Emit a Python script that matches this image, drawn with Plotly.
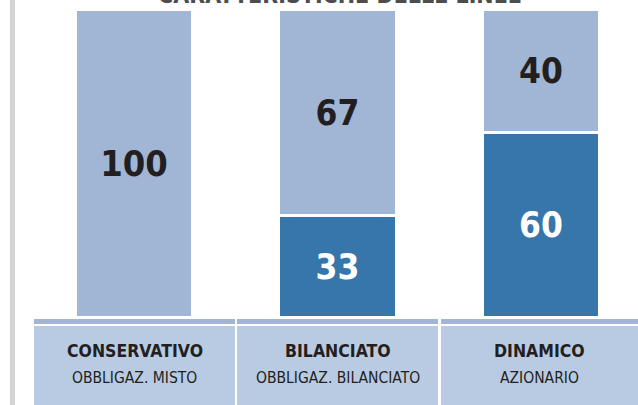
import plotly.graph_objects as go

# ---- data ----
categories = ["CONSERVATIVO", "BILANCIATO", "DINAMICO"]
subtitles = ["OBBLIGAZ. MISTO", "OBBLIGAZ. BILANCIATO", "AZIONARIO"]
azionario = [0, 33, 60]          # dark segment (bottom)
obbligazionario = [100, 67, 40]  # light segment (top)
title_text = "CARATTERISTICHE DELLE LINEE"

# ---- style ----
W, H = 638, 405
LIGHT = "#a1b6d4"
DARK = "#3776aa"
CELL = "#b8cbe3"
TXT = "#231f20"
FONT_B = "Noto Sans Condensed, DejaVu Sans Condensed, sans-serif"

def lab(vals):
    return [str(v) if v else "" for v in vals]

fig = go.Figure()
fig.add_trace(go.Bar(
    x=categories, y=azionario, name="Azionario",
    marker=dict(color=DARK, line=dict(color="white", width=3)),
    width=0.575,
    text=lab(azionario), textposition="inside", insidetextanchor="middle",
    textangle=0, constraintext="none",
    textfont=dict(family=FONT_B, size=35, color="white", weight="bold"),
    hoverinfo="skip",
))
fig.add_trace(go.Bar(
    x=categories, y=obbligazionario, name="Obbligazionario",
    marker=dict(color=LIGHT, line=dict(color="white", width=3)),
    width=0.575,
    text=lab(obbligazionario), textposition="inside", insidetextanchor="middle",
    textangle=0, constraintext="none",
    textfont=dict(family=FONT_B, size=[36, 35, 35], color=TXT, weight="bold"),
    hoverinfo="skip",
))

# window-pixel -> paper helpers (plot area = whole figure)
def px(x):
    return x / W

def py(y):
    return 1 - y / H

shapes = []
shapes.append(dict(type="rect", xref="paper", yref="paper",
                   x0=px(10), x1=px(15), y0=0, y1=1,
                   fillcolor="#d4d4d4", line=dict(width=0), layer="below"))
cell_edges = [(34, 235), (237, 438), (441, 638)]
annotations = []
for (a, b), cat, sub in zip(cell_edges, categories, subtitles):
    shapes.append(dict(type="rect", xref="paper", yref="paper",
                       x0=px(a), x1=px(b), y0=py(324), y1=py(319),
                       fillcolor=LIGHT, line=dict(width=0)))
    shapes.append(dict(type="rect", xref="paper", yref="paper",
                       x0=px(a), x1=px(b), y0=py(405), y1=py(326),
                       fillcolor=CELL, line=dict(width=0)))
    cx = px((a + b) / 2)
    annotations.append(dict(xref="paper", yref="paper", x=cx, y=py(351),
                            text=cat, showarrow=False, xanchor="center", yanchor="middle",
                            font=dict(family=FONT_B, size=17.5, color=TXT, weight="bold")))
    annotations.append(dict(xref="paper", yref="paper", x=cx, y=py(378),
                            text=sub, showarrow=False, xanchor="center", yanchor="middle",
                            font=dict(family=FONT_B, size=15.5, color=TXT)))

# title: only its lower edge shows at the top of the picture
annotations.append(dict(xref="paper", yref="paper", x=px(340), y=py(10),
                        text=title_text, showarrow=False, xanchor="center", yanchor="bottom",
                        font=dict(family=FONT_B, size=23, color="#4d4d4d", weight="bold")))

# axes: value 0 at pixel 317.5, 3.08 px per unit; category spacing 203.5 px
ppu = 3.08
zero = 317.5
c0 = 134
fig.update_layout(
    width=W, height=H,
    margin=dict(l=0, r=0, t=0, b=0),
    paper_bgcolor="white", plot_bgcolor="white",
    barmode="stack", showlegend=False,
    xaxis=dict(range=[-c0 / 203.5, (W - c0) / 203.5], visible=False, fixedrange=True),
    yaxis=dict(range=[-(H - zero) / ppu, zero / ppu], visible=False, fixedrange=True),
    shapes=shapes, annotations=annotations,
)

fig.write_html("out.html", config={"displayModeBar": False},
               post_script="document.body.style.margin='0';document.body.style.overflow='hidden';")
